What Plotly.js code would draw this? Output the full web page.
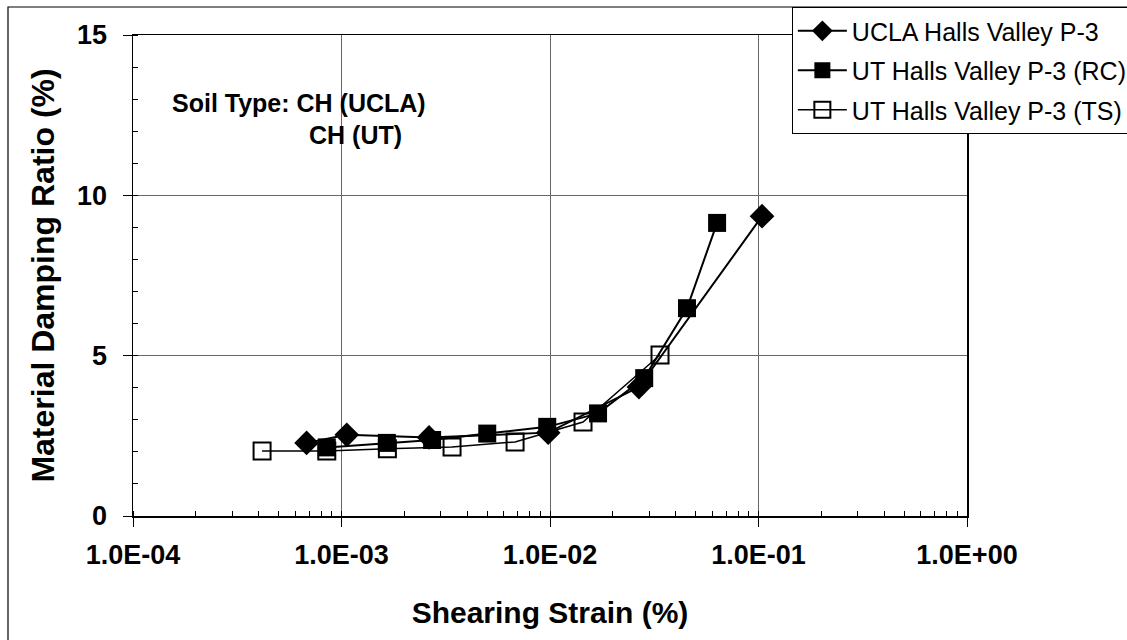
<!DOCTYPE html>
<html>
<head>
<meta charset="utf-8">
<script src="https://cdn.plot.ly/plotly-3.0.1.min.js"></script>
<style>html,body{margin:0;padding:0;background:#fff;}#chart{width:1127px;height:640px;}</style>
</head>
<body>
<div id="chart"></div>
<script>
// Data
var uclaStrain = [6.8e-4, 1.06e-3, 2.63e-3, 9.8e-3, 2.67e-2, 1.04e-1];
var uclaDamping = [2.28, 2.53, 2.45, 2.6, 4.02, 9.35];

var rcStrain = [8.5e-4, 1.65e-3, 2.72e-3, 5.0e-3, 9.7e-3, 1.7e-2, 2.83e-2, 4.54e-2, 6.33e-2];
var rcDamping = [2.14, 2.28, 2.37, 2.57, 2.78, 3.2, 4.3, 6.48, 9.14];

var tsStrain = [4.16e-4, 8.5e-4, 1.66e-3, 3.39e-3, 6.8e-3, 1.44e-2, 3.37e-2];
var tsDamping = [2.03, 2.03, 2.1, 2.15, 2.31, 2.93, 5.02];

var xTickVals = [1e-4, 1e-3, 1e-2, 1e-1, 1];
var xTickText = ["1.0E-04", "1.0E-03", "1.0E-02", "1.0E-01", "1.0E+00"];
var yTickVals = [0, 5, 10, 15];

var seriesNames = ["UCLA Halls Valley P-3", "UT Halls Valley P-3 (RC)", "UT Halls Valley P-3 (TS)"];

var FONT = "Liberation Sans, Arial, sans-serif";

var traces = [
  {x: uclaStrain, y: uclaDamping, name: seriesNames[0], mode: "lines+markers", legendgroup: "a",
   line: {color: "black", width: 2}, marker: {symbol: "diamond", size: 19, color: "black"}},
  {x: rcStrain, y: rcDamping, name: seriesNames[1], mode: "lines+markers", legendgroup: "b",
   line: {color: "black", width: 2}, marker: {symbol: "square", size: 18, color: "black"}},
  {x: tsStrain, y: tsDamping, name: seriesNames[2], mode: "lines+markers", legendgroup: "c",
   line: {color: "black", width: 1.5}, marker: {symbol: "square-open", size: 17, color: "black", line: {width: 2}}}
];

var layout = {
  width: 1127, height: 640,
  margin: {l: 133, r: 160, t: 35, b: 124, autoexpand: false},
  paper_bgcolor: "white", plot_bgcolor: "white",
  font: {family: FONT, color: "black"},
  showlegend: true,
  legend: {x: 0.79, y: 1.058, xanchor: "left", yanchor: "top", bgcolor: "white",
           bordercolor: "black", borderwidth: 1, font: {size: 25, family: FONT},
           tracegroupgap: 4, traceorder: "grouped", itemwidth: 49},
  xaxis: {type: "log", range: [-4, 0], tickvals: xTickVals, ticktext: xTickText, automargin: false,
          tickfont: {size: 27, weight: "bold"}, ticks: "outside", ticklen: 9, tickcolor: "black",
          showline: true, linecolor: "black", linewidth: 1.5, mirror: true,
          showgrid: true, gridcolor: "#666", gridwidth: 1, zeroline: false,
          ticklabelstandoff: 5,
          minor: {ticks: "inside", ticklen: 5, tickcolor: "black", dtick: "D1", showgrid: false},
          title: {text: "Shearing Strain (%)", font: {size: 30, weight: "bold"}, standoff: 33}},
  yaxis: {range: [0, 15], tickvals: yTickVals, automargin: false,
          tickfont: {size: 27, weight: "bold"}, ticks: "outside", ticklen: 9, tickcolor: "black",
          showline: true, linecolor: "black", linewidth: 1.5, mirror: true,
          showgrid: true, gridcolor: "#666", gridwidth: 1, zeroline: false,
          ticklabelstandoff: 10,
          minor: {ticks: "inside", ticklen: 5, tickcolor: "black", dtick: 1, showgrid: false},
          title: {text: "Material Damping Ratio (%)", font: {size: 32, weight: "bold"}, standoff: 13}},
  annotations: [
    {xref: "paper", yref: "paper", x: (170 - 133) / 834, y: (516 - 103) / 481, xanchor: "left", yanchor: "middle",
     text: "Soil Type: CH (UCLA)", showarrow: false, font: {size: 25, weight: "bold", family: FONT}},
    {xref: "paper", yref: "paper", x: (307 - 133) / 834, y: (516 - 135) / 481, xanchor: "left", yanchor: "middle",
     text: "CH (UT)", showarrow: false, font: {size: 25, weight: "bold", family: FONT}}
  ],
  shapes: [
    {type: "rect", xref: "paper", yref: "paper", x0: (8 - 133) / 834, x1: 1.3, y0: -0.4, y1: (516 - 7) / 481,
     line: {color: "black", width: 1.2}, fillcolor: "rgba(0,0,0,0)", layer: "below"}
  ]
};

Plotly.newPlot("chart", traces, layout, {displayModeBar: false, staticPlot: true});
</script>
</body>
</html>
